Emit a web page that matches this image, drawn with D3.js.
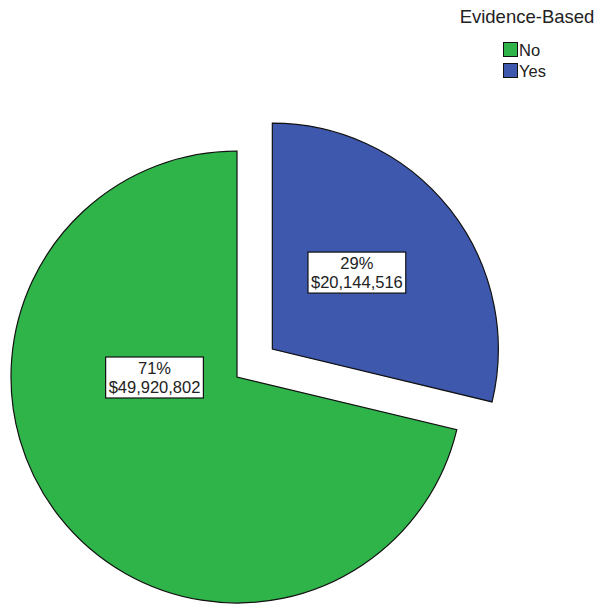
<!DOCTYPE html>
<html><head><meta charset="utf-8">
<script src="https://cdn.jsdelivr.net/npm/d3@7"></script>
<style>body{margin:0;background:#fff}</style>
</head><body>
<script>
const categories = ["No", "Yes"];
const values = [49920802, 20144516];
const percentLabels = ["71%", "29%"];
const valueLabels = ["$49,920,802", "$20,144,516"];
const legendTitle = "Evidence-Based";
const colors = ["#2fb44a", "#3e58ae"];

const W = 601, H = 604;
const svg = d3.select("body").append("svg").attr("width", W).attr("height", H);
const cx = 237, cy = 377, R = 226, explode = 45;
const font = "Arial, 'Liberation Sans', sans-serif";

const pie = d3.pie().sort(null).value(d => d.v);
const data = [{k:1, v:values[1]}, {k:0, v:values[0]}];
const arcs = pie(data);
const arc = d3.arc().innerRadius(0).outerRadius(R);
const color = d3.scaleOrdinal().domain([0,1]).range(colors);

const g = svg.append("g").attr("transform", `translate(${cx},${cy})`);
arcs.forEach(a => {
  const mid = (a.startAngle + a.endAngle) / 2;
  const off = a.data.k === 1 ? explode : 0;
  const dx = off * Math.sin(mid), dy = -off * Math.cos(mid);
  const sg = g.append("g").attr("transform", `translate(${dx},${dy})`);
  sg.append("path").attr("d", arc(a)).attr("fill", color(a.data.k))
    .attr("stroke", "#111").attr("stroke-width", 1.2);
  let lx, ly;
  if (a.data.k === 1) {
    const c = d3.arc().innerRadius(0).outerRadius(R * 0.93).centroid(a);
    lx = c[0] + 2; ly = c[1] - 11;
  } else {
    lx = -R * 0.365; ly = 1;
  }
  const lg = sg.append("g").attr("transform", `translate(${lx},${ly})`);
  const t = lg.append("text").attr("text-anchor", "middle")
    .attr("font-family", font).attr("font-size", 16.5).attr("fill", "#222");
  t.append("tspan").attr("x", 0).attr("y", -4).text(percentLabels[a.data.k]);
  t.append("tspan").attr("x", 0).attr("y", 15).text(valueLabels[a.data.k]);
  const bb = t.node().getBBox();
  lg.insert("rect", "text").attr("x", bb.x - 3).attr("y", bb.y - 2)
    .attr("width", bb.width + 6).attr("height", bb.height + 4)
    .attr("fill", "#fff").attr("stroke", "#111").attr("stroke-width", 1.2);
});

// legend
svg.append("text").attr("x", 527).attr("y", 23).attr("text-anchor", "middle")
  .attr("font-family", font).attr("font-size", 18.5).attr("fill", "#222").text(legendTitle);
categories.forEach((c, i) => {
  const y = 42 + i * 21;
  svg.append("rect").attr("x", 503.5).attr("y", y + 0.5).attr("width", 14).attr("height", 14)
    .attr("fill", colors[i]).attr("stroke", "#111").attr("stroke-width", 1);
  svg.append("text").attr("x", 519).attr("y", y + 13.5).attr("font-family", font)
    .attr("font-size", 16.5).attr("fill", "#222").text(c);
});
</script>
</body></html>
